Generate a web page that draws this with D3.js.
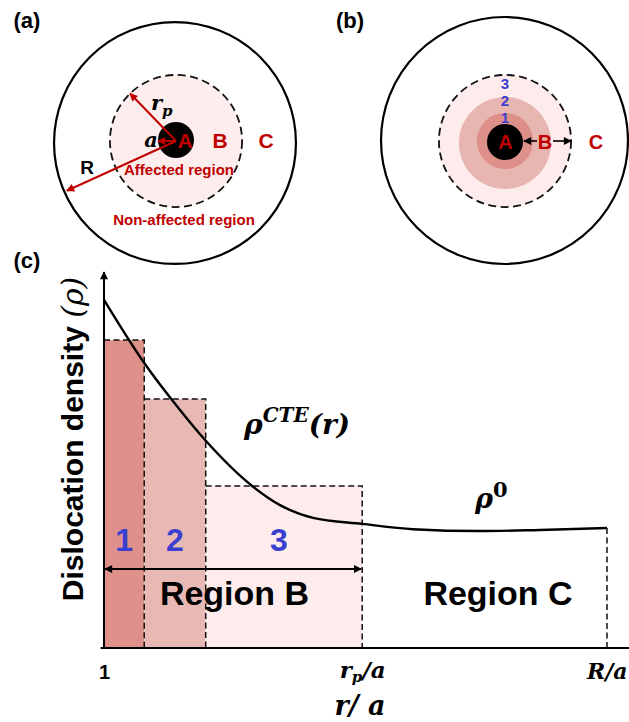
<!DOCTYPE html>
<html>
<head>
<meta charset="utf-8">
<script src="https://cdn.jsdelivr.net/npm/d3@7"></script>
<style>
  body { margin: 0; background: #fff; }
  svg { display: block; }
</style>
</head>
<body>
<svg id="fig" width="629" height="722"></svg>
<script>
// ---- Panel (c): dislocation density profile vs r/a ----
// Sub-region bin edges in r/a (bins 1, 2, 3 of Region B) and their mean densities
const binEdges = [1, 1.72, 2.82, 5.62];
const binRho = [81.9, 66.2, 43.1];
const binLabels = ["1", "2", "3"];
const binColors = ["#de918a", "#e8b9b4", "#fdeceb"];

// Continuous rho^CTE(r) profile, decaying to rho^0 at R/a
const curveR = [1, 1.72, 2.36, 2.81, 3.65, 4.15, 4.74, 5.62, 6.53, 7.73, 8.8, 10];
const curveRho = [92.6, 75.8, 63.3, 55.3, 43.1, 38.0, 34.6, 33.0, 31.6, 31.1, 31.4, 31.9];

// Axis ticks (r/a)
const xTickValues = [1, 5.62, 10];
const xTickLabels = ["1", "rp/a", "R/a"];

// Region names along the r/a axis
const regionNames = ["Region B", "Region C"];
const regionSpans = [[1, 5.62], [5.62, 10]];

// ---- Panels (a), (b): radii in units of the particle radius a ----
const radiiA = { core: 1, rp: 3.67, R: 6.72 };
const radiiB = { core: 1, ring1: 1.56, ring2: 2.56, rp: 3.67, R: 6.86 };
const ringColors = ["#dd9089", "#e8b6b1", "#fdeceb"];
const ringNumbers = ["3", "2", "1"];

const RED = "#c00000";
const BLUE = "#3b3fd0";
const SANS = "'Liberation Sans', Arial, sans-serif";
const SERIF = "'DejaVu Serif', 'Liberation Serif', serif";

const svg = d3.select("#fig");

// arrow markers
const defs = svg.append("defs");
function marker(id, color, w, h) {
  defs.append("marker")
    .attr("id", id)
    .attr("viewBox", "0 0 10 10")
    .attr("refX", 9).attr("refY", 5)
    .attr("markerUnits", "userSpaceOnUse")
    .attr("markerWidth", w).attr("markerHeight", h)
    .attr("orient", "auto-start-reverse")
    .append("path")
    .attr("d", "M0,0 L10,5 L0,10 Z")
    .attr("fill", color);
}
marker("arrRed", RED, 9, 8);
marker("arrBlack", "#000", 9, 8);
marker("arrAxis", "#000", 10, 8);

function txt(g, x, y, s, opts) {
  const o = Object.assign({ size: 20, fill: "#000", family: SANS, weight: "bold", anchor: "middle", style: "normal" }, opts || {});
  return g.append("text").attr("x", x).attr("y", y).text(s)
    .attr("font-family", o.family).attr("font-size", o.size).attr("font-weight", o.weight)
    .attr("font-style", o.style).attr("fill", o.fill).attr("text-anchor", o.anchor);
}

// ================= Panel (a) =================
const rA = d3.scaleLinear().domain([0, 1]).range([0, 18]);
const gA = svg.append("g");
const cAo = [175, 143], cA = [176, 141];

gA.append("circle").attr("cx", cAo[0]).attr("cy", cAo[1]).attr("r", rA(radiiA.R))
  .attr("fill", "none").attr("stroke", "#000").attr("stroke-width", 2.2);
gA.append("circle").attr("cx", cA[0]).attr("cy", cA[1]).attr("r", rA(radiiA.rp))
  .attr("fill", "#fdeeed").attr("stroke", "#111").attr("stroke-width", 1.8)
  .attr("stroke-dasharray", "8,4.5");
gA.append("circle").attr("cx", cA[0]).attr("cy", cA[1] - 1).attr("r", rA(radiiA.core))
  .attr("fill", "#000");

// radius arrows
function radialArrow(g, c, r, angleDeg, color, mk, w) {
  const t = angleDeg * Math.PI / 180;
  g.append("line")
    .attr("x1", c[0]).attr("y1", c[1])
    .attr("x2", c[0] + r * Math.cos(t)).attr("y2", c[1] - r * Math.sin(t))
    .attr("stroke", color).attr("stroke-width", w || 2)
    .attr("marker-end", `url(#${mk})`);
}
radialArrow(gA, cA, rA(radiiA.rp), 134, RED, "arrRed");
radialArrow(gA, cA, rA(radiiA.core), 180, RED, "arrRed");
radialArrow(gA, cA, rA(radiiA.R) - 1, 204.5, RED, "arrRed");

txt(gA, 27, 28, "(a)", { size: 22 });
txt(gA, 185, 148, "A", { size: 21, fill: RED });
txt(gA, 220, 148, "B", { size: 21, fill: RED });
txt(gA, 266, 148, "C", { size: 21, fill: RED });
txt(gA, 87, 174, "R", { size: 19 });
txt(gA, 179, 175, "Affected region", { size: 15, fill: RED });
txt(gA, 184, 225, "Non-affected region", { size: 15, fill: RED });
txt(gA, 151, 147, "a", { size: 21, family: SERIF, style: "italic" });
{
  const t = txt(gA, 151, 110, "", { size: 21, family: SERIF, style: "italic", anchor: "start" });
  t.append("tspan").text("r");
  t.append("tspan").attr("dy", 6).attr("font-size", 15).text("p");
}

// ================= Panel (b) =================
const gB = svg.append("g");
const cBo = [504.5, 140.5], cB = [505, 142];
gB.append("circle").attr("cx", cBo[0]).attr("cy", cBo[1]).attr("r", rA(radiiB.R))
  .attr("fill", "none").attr("stroke", "#000").attr("stroke-width", 2.2);
gB.append("circle").attr("cx", cB[0]).attr("cy", cB[1] - 1).attr("r", rA(radiiB.rp))
  .attr("fill", ringColors[2]).attr("stroke", "#111").attr("stroke-width", 1.8)
  .attr("stroke-dasharray", "8,4.5");
gB.append("circle").attr("cx", cB[0]).attr("cy", cB[1] + 1).attr("r", rA(radiiB.ring2))
  .attr("fill", ringColors[1]);
gB.append("circle").attr("cx", cB[0]).attr("cy", cB[1] - 1).attr("r", rA(radiiB.ring1))
  .attr("fill", ringColors[0]);
gB.append("circle").attr("cx", cB[0]).attr("cy", cB[1]).attr("r", rA(radiiB.core))
  .attr("fill", "#000");

txt(gB, 336, 28, "(b)", { size: 22, anchor: "start" });
txt(gB, 505.5, 149, "A", { size: 20, fill: RED });
txt(gB, 545, 149, "B", { size: 20, fill: RED });
txt(gB, 596, 149, "C", { size: 20, fill: RED });
gB.selectAll("text.ringNum").data(ringNumbers).join("text").attr("class", "ringNum")
  .attr("x", 505).attr("y", (d, i) => 89 + i * 17)
  .attr("text-anchor", "middle").attr("font-family", SANS).attr("font-weight", "bold")
  .attr("font-size", 15).attr("fill", BLUE).text(d => d);
gB.append("line").attr("x1", 537).attr("y1", 141).attr("x2", cB[0] + rA(radiiB.core) + 1).attr("y2", 141)
  .attr("stroke", "#000").attr("stroke-width", 1.6).attr("marker-end", "url(#arrBlack)");
gB.append("line").attr("x1", 553).attr("y1", 141).attr("x2", cB[0] + rA(radiiB.rp)).attr("y2", 141)
  .attr("stroke", "#000").attr("stroke-width", 1.6).attr("marker-end", "url(#arrBlack)");

// ================= Panel (c) =================
const x = d3.scaleLinear().domain([1, 10]).range([104, 607]);
const y = d3.scaleLinear().domain([0, 100]).range([648, 272]);
const gC = svg.append("g");

txt(gC, 27, 268, "(c)", { size: 22 });

// bins
const bins = binRho.map((v, i) => ({ x0: binEdges[i], x1: binEdges[i + 1], v, label: binLabels[i], color: binColors[i] }));
gC.selectAll("rect.bin").data(bins).join("rect").attr("class", "bin")
  .attr("x", d => x(d.x0)).attr("width", d => x(d.x1) - x(d.x0))
  .attr("y", d => y(d.v)).attr("height", d => y(0) - y(d.v))
  .attr("fill", d => d.color);
gC.selectAll("path.binEdge").data(bins).join("path").attr("class", "binEdge")
  .attr("d", d => `M${x(d.x0)},${y(d.v)}H${x(d.x1)}V${y(0)}`)
  .attr("fill", "none").attr("stroke", "#111").attr("stroke-width", 1.5)
  .attr("stroke-dasharray", "6,3.5");

// boundary at R/a
const lastRho = curveRho[curveRho.length - 1];
gC.append("line").attr("x1", x(10)).attr("x2", x(10)).attr("y1", y(lastRho)).attr("y2", y(0))
  .attr("stroke", "#111").attr("stroke-width", 1.5).attr("stroke-dasharray", "6,3.5");

// density curve
const curvePts = curveR.map((r, i) => [r, curveRho[i]]);
gC.append("path").datum(curvePts)
  .attr("d", d3.line().x(d => x(d[0])).y(d => y(d[1])).curve(d3.curveMonotoneX))
  .attr("fill", "none").attr("stroke", "#000").attr("stroke-width", 2.4);

// axes
gC.append("line").attr("x1", x(1)).attr("x2", x(1)).attr("y1", y(0) + 1).attr("y2", y(100))
  .attr("stroke", "#000").attr("stroke-width", 2).attr("marker-end", "url(#arrAxis)");
gC.append("line").attr("x1", x(0.94)).attr("x2", 629).attr("y1", y(0)).attr("y2", y(0))
  .attr("stroke", "#000").attr("stroke-width", 2.2);

const xAxis = d3.axisBottom(x).tickValues(xTickValues).tickSize(0).tickFormat((d, i) => xTickLabels[i]);
const gx = gC.append("g").attr("transform", `translate(0,${y(0)})`).call(xAxis);
gx.select(".domain").remove();
gx.selectAll(".tick text").each(function (d, i) {
  const t = d3.select(this).attr("y", 31).attr("dy", null).attr("fill", "#000").text(null)
    .attr("font-weight", "bold");
  const lab = xTickLabels[i];
  if (lab === "1") {
    t.attr("font-family", SANS).attr("font-size", 20).text("1");
  } else if (lab === "rp/a") {
    t.attr("font-family", SERIF).attr("font-style", "italic").attr("font-size", 23).attr("y", 30);
    t.append("tspan").text("r");
    t.append("tspan").attr("dy", 4).attr("font-size", 15).text("p");
    t.append("tspan").attr("dy", -4).text("/a");
  } else {
    t.attr("font-family", SERIF).attr("font-style", "italic").attr("font-size", 22)
      .attr("text-anchor", "end").attr("x", 627 - x(d)).text("R/a");
  }
});

// axis titles
{
  const t = gC.append("text").attr("transform", "translate(83,439) rotate(-90)")
    .attr("text-anchor", "middle").attr("font-family", SANS).attr("font-weight", "bold")
    .attr("font-size", 30).attr("fill", "#000");
  t.append("tspan").text("Dislocation density ");
  t.append("tspan").attr("font-family", SERIF).attr("font-style", "italic").attr("font-weight", "normal").text("(ρ)");
}
txt(gC, 360, 715, "r/ a", { size: 27, family: SERIF, style: "italic" });

// bin numbers
gC.selectAll("text.binNum").data(bins).join("text").attr("class", "binNum")
  .attr("x", (d, i) => i === 2 ? 279 : (x(d.x0) + x(d.x1)) / 2)
  .attr("y", 551).attr("text-anchor", "middle")
  .attr("font-family", SANS).attr("font-weight", "bold").attr("font-size", 32)
  .attr("fill", BLUE).text(d => d.label);

// Region B extent arrow
gC.append("line").attr("x1", x(regionSpans[0][0]) + 1).attr("x2", x(regionSpans[0][1]) - 1)
  .attr("y1", 569).attr("y2", 569)
  .attr("stroke", "#000").attr("stroke-width", 2)
  .attr("marker-start", "url(#arrBlack)").attr("marker-end", "url(#arrBlack)");

// region names
txt(gC, 234.5, 605, regionNames[0], { size: 34 });
txt(gC, 498, 605, regionNames[1], { size: 34 });

// curve annotations
{
  const t = txt(gC, 244, 434, "", { size: 28, family: SERIF, style: "italic", anchor: "start" });
  t.append("tspan").text("ρ");
  t.append("tspan").attr("dy", -12).attr("font-size", 20).text("CTE");
  t.append("tspan").attr("dy", 12).text("(r)");
}
{
  const t = txt(gC, 475, 508, "", { size: 27, family: SERIF, style: "italic", anchor: "start" });
  t.append("tspan").text("ρ");
  t.append("tspan").attr("dy", -11).attr("font-size", 21).attr("font-style", "normal").text("0");
}
</script>
</body>
</html>
